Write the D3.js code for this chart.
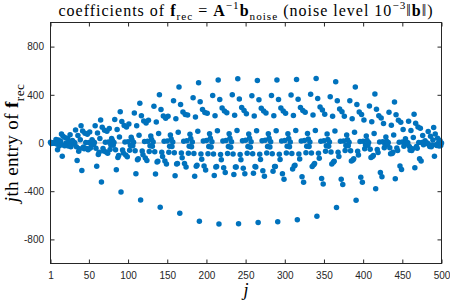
<!DOCTYPE html>
<html>
<head>
<meta charset="utf-8">
<script src="https://cdn.jsdelivr.net/npm/d3@7"></script>
<style>
  body { margin: 0; background: #fff; }
</style>
</head>
<body>
<div id="chart"></div>
<script>
// coefficients of f_rec, j = 1..500 (25 values per line)
var coefJ1to100 = [
  6, -4, -3, 3, 3, -3, 1, 30, -8, -55, 25, -25, -16, 14, 74, -110, 55, -16, -23, 44, 1, -20, 38, -25, 2,
  68, -31, -7, 21, 10, -8, 2, 108, -31, -146, 62, -68, -48, 28, 143, -228, 99, -33, -48, 80, 4, -45, 73, -55, 5,
  92, -41, -11, 28, 15, -13, 4, 144, -44, -192, 83, -96, -76, 37, 190, -324, 131, -46, -67, 106, 7, -75, 97, -85, 8,
  121, -54, -16, 38, 21, -18, 5, 196, -55, -222, 113, -120, -104, 50, 260, -407, 179, -58, -84, 145, 9, -100, 132, -115, 11
];
var coefJ101to200 = [
  157, -61, -20, 48, 26, -23, 7, 248, -64, -256, 143, -140, -130, 64, 329, -472, 226, -67, -98, 183, 12, -125, 167, -145, 14,
  188, -71, -23, 59, 30, -27, 8, 304, -73, -258, 175, -158, -152, 78, 401, -533, 277, -76, -111, 224, 14, -150, 205, -175, 17,
  221, -76, -26, 67, 34, -30, 9, 350, -80, -272, 201, -174, -170, 90, 464, -583, 319, -84, -122, 258, 15, -170, 236, -200, 19,
  233, -85, -28, 72, 37, -32, 9, 376, -88, -275, 216, -192, -184, 97, 499, -649, 343, -92, -134, 277, 17, -190, 254, -225, 20
];
var coefJ201to300 = [
  247, -89, -29, 76, 39, -34, 10, 394, -92, -269, 227, -200, -194, 101, 522, -673, 360, -96, -140, 291, 17, -205, 266, -245, 21,
  252, -87, -30, 77, 40, -35, 10, 400, -92, -262, 230, -199, -200, 103, 533, -670, 365, -95, -139, 295, 18, -210, 270, -255, 22,
  243, -86, -30, 75, 40, -35, 10, 392, -90, -250, 225, -196, -200, 101, 519, -660, 358, -94, -137, 289, 18, -230, 265, -275, 22,
  248, -84, -29, 76, 39, -34, 10, 394, -89, -235, 227, -194, -194, 101, 522, -654, 360, -93, -136, 291, 17, -255, 266, -300, 21
];
var coefJ301to400 = [
  247, -83, -28, 77, 37, -32, 9, 398, -87, -215, 229, -190, -184, 103, 528, -637, 364, -91, -133, 294, 17, -280, 269, -325, 20,
  255, -80, -26, 78, 34, -30, 9, 404, -83, -195, 232, -180, -170, 104, 536, -607, 369, -86, -126, 298, 15, -295, 273, -340, 19,
  238, -69, -23, 74, 30, -27, 8, 384, -74, -175, 221, -160, -152, 99, 508, -536, 350, -77, -112, 283, 14, -300, 259, -345, 17,
  221, -63, -20, 67, 26, -23, 7, 350, -65, -150, 201, -142, -130, 90, 464, -475, 319, -68, -99, 258, 12, -285, 236, -325, 14
];
var coefJ401to500 = [
  191, -48, -16, 59, 21, -18, 5, 308, -52, -120, 177, -112, -104, 79, 407, -379, 281, -54, -78, 227, 9, -245, 208, -280, 11,
  162, -40, -11, 49, 15, -13, 4, 256, -40, -90, 147, -88, -76, 66, 341, -297, 234, -42, -62, 189, 7, -190, 173, -220, 8,
  111, -26, -7, 35, 10, -8, 2, 180, -29, -60, 104, -62, -48, 46, 239, -206, 164, -30, -43, 133, 4, -130, 122, -150, 5,
  62, -15, -3, 18, 3, -3, 1, 96, -15, -30, 55, -32, -16, 25, 129, -110, 75, -14, -20, 40, 1, -25, 20, -20, 1
];

// exact solution (grey line, near zero at this scale)
var exactJ = [1, 500];
var exactF = [0, 0];

var xTicks = [1, 50, 100, 150, 200, 250, 300, 350, 400, 450, 500];
var yTicks = [-800, -400, 0, 400, 800];

var svgWidth = 450;
var svgHeight = 301;

var margin = {
  top: 22.5,
  right: 8.5,
  bottom: 37.5,
  left: 50.5
};

var width = svgWidth - margin.left - margin.right;
var height = svgHeight - margin.top - margin.bottom;

var axisColor = "#262626";
var dotColor = "#0072BD";
var serif = "'Liberation Serif', 'DejaVu Serif', serif";
var sans = "'Liberation Sans', Arial, Helvetica, sans-serif";

var svg = d3.select("#chart")
  .append("svg")
  .attr("width", svgWidth)
  .attr("height", svgHeight);

var chartGroup = svg.append("g")
  .attr("transform", `translate(${margin.left}, ${margin.top})`);

var coef = coefJ1to100.concat(coefJ101to200, coefJ201to300, coefJ301to400, coefJ401to500);
var points = coef.map((v, i) => ({ j: i + 1, v: v }));

var xScale = d3.scaleLinear()
  .domain([1, 500])
  .range([0, width]);

var yScale = d3.scaleLinear()
  .domain([-1000, 1000])
  .range([height, 0]);

// plain hyphen for negatives, like matlab
var plainFmt = d => String(d);

// axes, ticks pointing inward like matlab
function styleAxis(g) {
  g.select(".domain").remove();
  g.selectAll(".tick line").attr("stroke", axisColor);
  g.selectAll(".tick text")
    .attr("fill", axisColor)
    .style("font-family", sans)
    .style("font-size", "10px");
}

chartGroup.append("g")
  .attr("transform", `translate(0, ${height})`)
  .call(d3.axisBottom(xScale).tickValues(xTicks).tickSizeInner(-4).tickSizeOuter(0).tickPadding(8.5).tickFormat(plainFmt))
  .call(styleAxis);

chartGroup.append("g")
  .call(d3.axisTop(xScale).tickValues(xTicks).tickSizeInner(-4).tickSizeOuter(0).tickFormat(""))
  .call(styleAxis);

chartGroup.append("g")
  .call(d3.axisLeft(yScale).tickValues(yTicks).tickSizeInner(-4).tickSizeOuter(0).tickPadding(6.5).tickFormat(plainFmt))
  .call(styleAxis);

chartGroup.append("g")
  .attr("transform", `translate(${width}, 0)`)
  .call(d3.axisRight(yScale).tickValues(yTicks).tickSizeInner(-4).tickSizeOuter(0).tickFormat(""))
  .call(styleAxis);

// grey exact line
var line = d3.line()
  .x(d => xScale(d[0]))
  .y(d => yScale(d[1]));

chartGroup.append("path")
  .datum(exactJ.map((j, i) => [j, exactF[i]]))
  .attr("d", line)
  .attr("fill", "none")
  .attr("stroke", "#b4b4b4")
  .attr("stroke-width", 1);

// the scatter
chartGroup.append("g")
  .selectAll("circle")
  .data(points)
  .join("circle")
  .attr("cx", d => xScale(d.j))
  .attr("cy", d => yScale(d.v))
  .attr("r", 2.75)
  .attr("fill", dotColor);

// box
chartGroup.append("rect")
  .attr("width", width)
  .attr("height", height)
  .attr("fill", "none")
  .attr("stroke", axisColor)
  .attr("stroke-width", 1);

// rich text helper: segments with bold / italic / sub / sup
function richText(textSel, parts, size) {
  var shift = 0;
  parts.forEach(p => {
    var t = textSel.append("tspan").text(p.t);
    var s = 0;
    if (p.sub) s = size * 0.3;
    if (p.sup) s = -size * 0.4;
    if (s !== shift) t.attr("dy", s - shift);
    shift = s;
    if (p.sub || p.sup) t.style("font-size", (size * 0.7) + "px");
    if (p.b) t.style("font-weight", "bold");
    if (p.i) t.style("font-style", "italic");
  });
}

var title = svg.append("text")
  .attr("x", margin.left + width / 2)
  .attr("y", 15.5)
  .attr("text-anchor", "middle")
  .attr("fill", "#000")
  .style("font-family", serif)
  .style("font-size", "16px")
  .style("letter-spacing", "1px");

richText(title, [
  { t: "coefficients of " },
  { t: "f", b: true },
  { t: "rec", sub: true },
  { t: " = " },
  { t: "A", b: true },
  { t: "\u22121", sup: true },
  { t: "b", b: true },
  { t: "noise", sub: true },
  { t: " (noise level 10" },
  { t: "\u22123", sup: true },
  { t: "\u2016" },
  { t: "b", b: true },
  { t: "\u2016)" }
], 16);

var xLabel = svg.append("text")
  .attr("x", margin.left + width / 2)
  .attr("y", 296)
  .attr("text-anchor", "middle")
  .style("font-family", serif)
  .style("font-size", "18px");

richText(xLabel, [{ t: "j", i: true }], 18);

var yLabel = svg.append("text")
  .attr("transform", `translate(18, ${margin.top + height / 2}) rotate(-90)`)
  .attr("text-anchor", "middle")
  .style("font-family", serif)
  .style("font-size", "19px")
  .style("letter-spacing", "0.4px");

richText(yLabel, [
  { t: "j", i: true },
  { t: "th entry of " },
  { t: "f", b: true },
  { t: "rec", sub: true }
], 19);
</script>
</body>
</html>
